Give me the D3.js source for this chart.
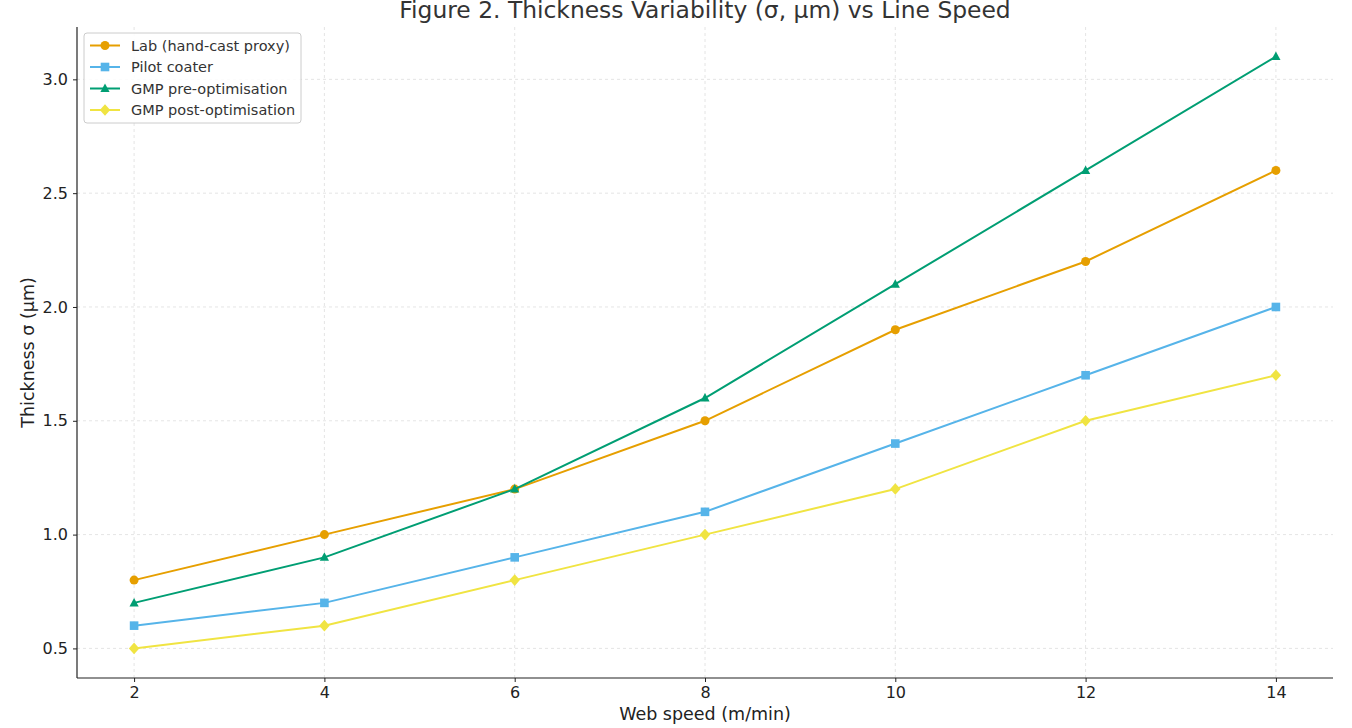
<!DOCTYPE html>
<html>
<head>
<meta charset="utf-8">
<script src="https://cdn.jsdelivr.net/npm/d3@7"></script>
<style>
  body { margin: 0; background: #fff; }
  svg text { font-family: "DejaVu Sans", sans-serif; }
</style>
</head>
<body>
<svg id="chart" width="1352" height="728"></svg>
<script>
// data
var speeds = [2, 4, 6, 8, 10, 12, 14];
var labSigma = [0.8, 1.0, 1.2, 1.5, 1.9, 2.2, 2.6];
var pilotSigma = [0.6, 0.7, 0.9, 1.1, 1.4, 1.7, 2.0];
var gmpPreSigma = [0.7, 0.9, 1.2, 1.6, 2.1, 2.6, 3.1];
var gmpPostSigma = [0.5, 0.6, 0.8, 1.0, 1.2, 1.5, 1.7];
var xTicks = [2, 4, 6, 8, 10, 12, 14];
var yTicks = [0.5, 1.0, 1.5, 2.0, 2.5, 3.0];

var series = [
    { name: 'Lab (hand-cast proxy)', values: labSigma, color: '#E69F00', marker: 'circle' },
    { name: 'Pilot coater', values: pilotSigma, color: '#56B4E9', marker: 'square' },
    { name: 'GMP pre-optimisation', values: gmpPreSigma, color: '#009E73', marker: 'triangle' },
    { name: 'GMP post-optimisation', values: gmpPostSigma, color: '#F0E442', marker: 'diamond' }
];

var svg = d3.select('#chart');
var margin = { left: 77, right: 19, top: 27, bottom: 50 };
var W = 1352, H = 728;

var x = d3.scaleLinear().domain([1.4, 14.6]).range([margin.left, W - margin.right]);
var y = d3.scaleLinear().domain([0.37, 3.23]).range([H - margin.bottom, margin.top]);

// grid
var grid = svg.append('g');
grid.selectAll('.gx').data(xTicks).enter().append('line')
    .attr('x1', d => x(d)).attr('x2', d => x(d))
    .attr('y1', y.range()[0]).attr('y2', y.range()[1])
    .attr('stroke', '#dddddd').attr('stroke-width', 0.8).attr('stroke-dasharray', '3,3');
grid.selectAll('.gy').data(yTicks).enter().append('line')
    .attr('y1', d => y(d)).attr('y2', d => y(d))
    .attr('x1', x.range()[0]).attr('x2', x.range()[1])
    .attr('stroke', '#dddddd').attr('stroke-width', 0.8).attr('stroke-dasharray', '3,3');

// axes
var xAxis = svg.append('g').attr('transform', 'translate(0,' + (H - margin.bottom) + ')')
    .call(d3.axisBottom(x).tickValues(xTicks).tickSize(4).tickPadding(5).tickFormat(d3.format('d')));
var yAxis = svg.append('g').attr('transform', 'translate(' + margin.left + ',0)')
    .call(d3.axisLeft(y).tickValues(yTicks).tickSize(4).tickPadding(5).tickFormat(d3.format('.1f')));
[xAxis, yAxis].forEach(function (a) {
    a.select('.domain').attr('stroke', '#222').attr('stroke-width', 1.2)
        .attr('d', a === xAxis ? 'M' + x.range()[0] + ',0H' + x.range()[1] : 'M0,' + y.range()[0] + 'V' + y.range()[1]);
    a.selectAll('.tick line').attr('stroke', '#222');
    a.selectAll('.tick text').attr('fill', '#222').style('font-size', '16px');
});

// lines + markers
var line = d3.line().x((d, i) => x(speeds[i])).y(d => y(d));

function drawMarker(g, s, cx, cy) {
    var t = 'translate(' + cx + ',' + cy + ')';
    if (s.marker === 'circle') {
        return g.append('circle').attr('cx', cx).attr('cy', cy).attr('r', 4.5).attr('fill', s.color);
    } else if (s.marker === 'square') {
        return g.append('rect').attr('x', cx - 4.3).attr('y', cy - 4.3).attr('width', 8.6).attr('height', 8.6).attr('fill', s.color);
    } else if (s.marker === 'triangle') {
        return g.append('path').attr('d', 'M0,-5L4.6,3.5L-4.6,3.5Z').attr('transform', t).attr('fill', s.color);
    }
    return g.append('path').attr('d', 'M0,-5.8L5.2,0L0,5.8L-5.2,0Z').attr('transform', t).attr('fill', s.color);
}

series.forEach(function (s) {
    svg.append('path').datum(s.values).attr('d', line)
        .attr('fill', 'none').attr('stroke', s.color).attr('stroke-width', 2);
    var g = svg.append('g');
    s.values.forEach(function (v, i) { drawMarker(g, s, x(speeds[i]), y(v)); });
});

// title & labels (title sits against the top edge, as in the source figure)
svg.append('text').attr('x', (x.range()[0] + x.range()[1]) / 2).attr('y', 18)
    .attr('text-anchor', 'middle').attr('fill', '#333').style('font-size', '23.4px')
    .text('Figure 2. Thickness Variability (σ, µm) vs Line Speed');
svg.append('text').attr('x', (x.range()[0] + x.range()[1]) / 2).attr('y', 720)
    .attr('text-anchor', 'middle').attr('fill', '#222').style('font-size', '17.5px')
    .text('Web speed (m/min)');
svg.append('text').attr('transform', 'translate(34,' + ((y.range()[0] + y.range()[1]) / 2) + ') rotate(-90)')
    .attr('text-anchor', 'middle').attr('fill', '#222').style('font-size', '17.5px')
    .text('Thickness σ (µm)');

// legend
var lg = svg.append('g').attr('transform', 'translate(84,33)');
lg.append('rect').attr('width', 217).attr('height', 90).attr('rx', 3)
    .attr('fill', '#fff').attr('fill-opacity', 0.85).attr('stroke', '#ccc');
series.forEach(function (s, i) {
    var yy = 12.5 + i * 21.5;
    lg.append('line').attr('x1', 6).attr('x2', 36).attr('y1', yy).attr('y2', yy)
        .attr('stroke', s.color).attr('stroke-width', 2);
    drawMarker(lg, s, 21, yy);
    lg.append('text').attr('x', 47).attr('y', yy + 5).attr('fill', '#333')
        .style('font-size', '14.5px').text(s.name);
});
</script>
</body>
</html>
